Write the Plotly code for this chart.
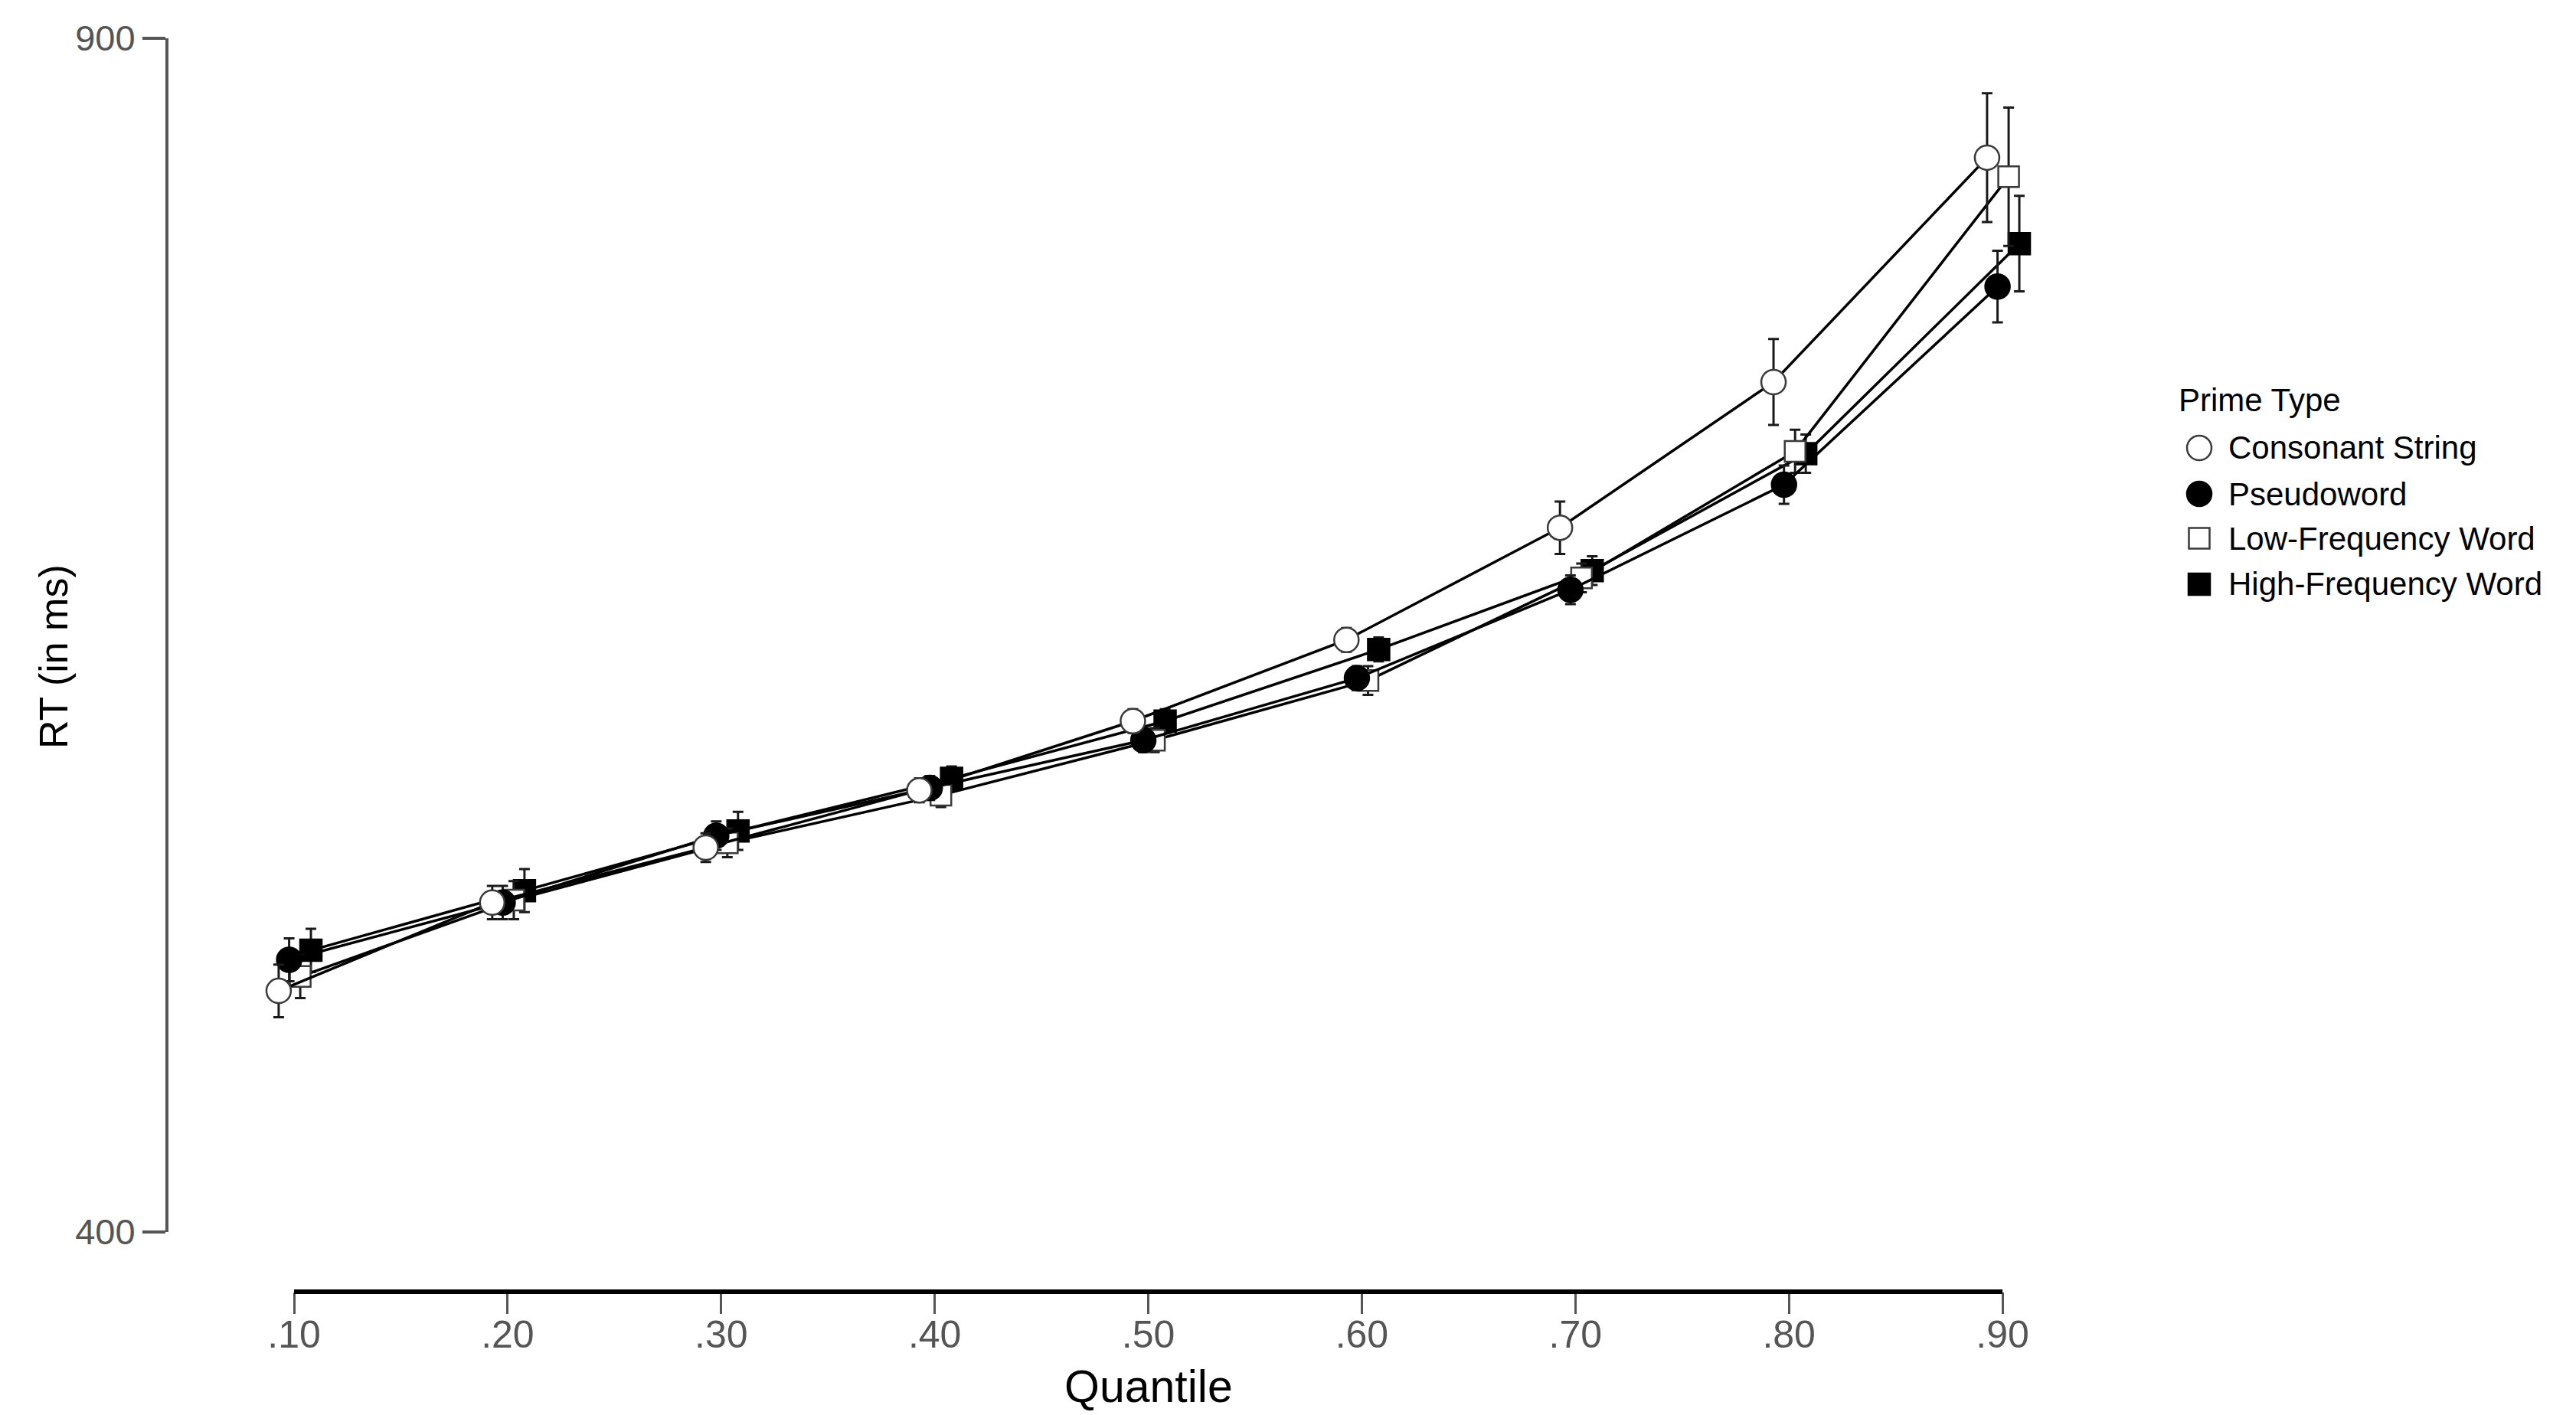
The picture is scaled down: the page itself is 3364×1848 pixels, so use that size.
import plotly.graph_objects as go

# ---------------- data ----------------
quantiles = [0.10, 0.20, 0.30, 0.40, 0.50, 0.60, 0.70, 0.80, 0.90]
quantile_labels = [".10", ".20", ".30", ".40", ".50", ".60", ".70", ".80", ".90"]
y_ticks = [400, 900]

series_names = ["Consonant String", "Pseudoword", "Low-Frequency Word", "High-Frequency Word"]

consonant_string = [501, 538, 561, 585, 614, 648, 695, 756, 850]
pseudoword = [514, 538, 566, 586, 606, 632, 669, 713, 796]
low_frequency = [507, 539, 563, 583, 606, 631, 674, 727, 842]
high_frequency = [518, 543, 568, 590, 614, 644, 677, 726, 814]

consonant_err = [11, 7, 6, 5, 5, 5, 11, 18, 27]
pseudoword_err = [9, 7, 6, 5, 5, 5, 6, 8, 15]
low_frequency_err = [9, 8, 6, 5, 5, 6, 6, 9, 29]
high_frequency_err = [9, 9, 8, 5, 5, 5, 6, 8, 20]

values = [consonant_string, pseudoword, low_frequency, high_frequency]
errors = [consonant_err, pseudoword_err, low_frequency_err, high_frequency_err]

# ---------------- style ----------------
W, H = 3364, 1848
FONT = "Liberation Sans, Arial, sans-serif"
dodge = [-0.0072, -0.0023, 0.0029, 0.0079]
symbols = ["circle", "circle", "square", "square"]
fills = ["white", "black", "white", "black"]
outlines = ["#3a3a3a", "black", "#3a3a3a", "black"]
sizes = [32, 32, 27, 28]


def px_x(p):
    return p / W


def px_y(p):
    return 1 - p / H


fig = go.Figure()

# draw order: last series at bottom, first on top
for i in [3, 2, 1, 0]:
    fig.add_trace(go.Scatter(
        x=[q + dodge[i] for q in quantiles],
        y=values[i],
        name=series_names[i],
        mode="lines+markers",
        line=dict(color="black", width=3.5),
        marker=dict(symbol=symbols[i], size=sizes[i], color=fills[i],
                    line=dict(color=outlines[i], width=2.5)),
        error_y=dict(type="data", array=errors[i], visible=True,
                     color="#1a1a1a", thickness=3, width=7),
        cliponaxis=False,
        showlegend=False,
    ))

x_range = [0.08, 0.92]
ppu = (2615 - 384) / 0.8
x_dom = [px_x(384 - (0.10 - x_range[0]) * ppu), px_x(2615 + (x_range[1] - 0.90) * ppu)]
y_dom = [px_y(1609), px_y(50)]

fig.update_layout(
    width=W, height=H, autosize=False,
    margin=dict(l=0, r=0, t=0, b=0, pad=0),
    paper_bgcolor="white", plot_bgcolor="white",
    font=dict(family=FONT, color="black"),
    showlegend=False,
    xaxis=dict(
        domain=x_dom, range=x_range, anchor="free", position=px_y(1687),
        showline=False, showgrid=False, zeroline=False,
        tickvals=quantiles, ticktext=quantile_labels,
        ticks="outside", ticklen=28, tickwidth=3, tickcolor="#555555",
        tickfont=dict(family=FONT, size=50, color="#555555"),
        ticklabelstandoff=-16,
        automargin=False,
    ),
    yaxis=dict(
        domain=y_dom, range=[400, 900], anchor="free", position=px_x(218),
        showline=True, linecolor="#555555", linewidth=4,
        showgrid=False, zeroline=False,
        tickvals=y_ticks, ticktext=[str(v) for v in y_ticks],
        ticks="outside", ticklen=30, tickwidth=4, tickcolor="#555555",
        tickfont=dict(family=FONT, size=47, color="#555555"),
        automargin=False,
    ),
)

# x axis baseline from first to last quantile
fig.add_shape(type="line", xref="x", yref="paper",
              x0=quantiles[0], x1=quantiles[-1], y0=px_y(1687), y1=px_y(1687),
              line=dict(color="black", width=6))

# axis titles
fig.add_annotation(text="Quantile", xref="x", yref="paper",
                   x=(quantiles[0] + quantiles[-1]) / 2, y=px_y(1811),
                   xanchor="center", yanchor="middle", showarrow=False,
                   font=dict(family=FONT, size=59, color="black"))
fig.add_annotation(text="RT (in ms)", xref="paper", yref="paper",
                   x=px_x(70), y=px_y(858), textangle=-90,
                   xanchor="center", yanchor="middle", showarrow=False,
                   font=dict(family=FONT, size=52, color="black"))

# legend
fig.add_annotation(text="Prime Type", xref="paper", yref="paper",
                   x=px_x(2843), y=px_y(522), xanchor="left", yanchor="middle",
                   showarrow=False, font=dict(family=FONT, size=42, color="black"))
leg_y = [585, 645, 703, 763]
mx = 2872
for i, name in enumerate(series_names):
    r = sizes[i] / 2
    fig.add_shape(type="circle" if symbols[i] == "circle" else "rect",
                  xref="paper", yref="paper",
                  x0=px_x(mx - r), x1=px_x(mx + r),
                  y0=px_y(leg_y[i] + r), y1=px_y(leg_y[i] - r),
                  fillcolor=fills[i], line=dict(color=outlines[i], width=2.5))
    fig.add_annotation(text=name, xref="paper", yref="paper",
                       x=px_x(2908), y=px_y(leg_y[i]), xanchor="left", yanchor="middle",
                       showarrow=False, font=dict(family=FONT, size=42, color="black"))

fig.write_html("out.html",
               config={"displayModeBar": False},
               post_script="document.body.style.margin='0';document.body.style.overflow='hidden';")
